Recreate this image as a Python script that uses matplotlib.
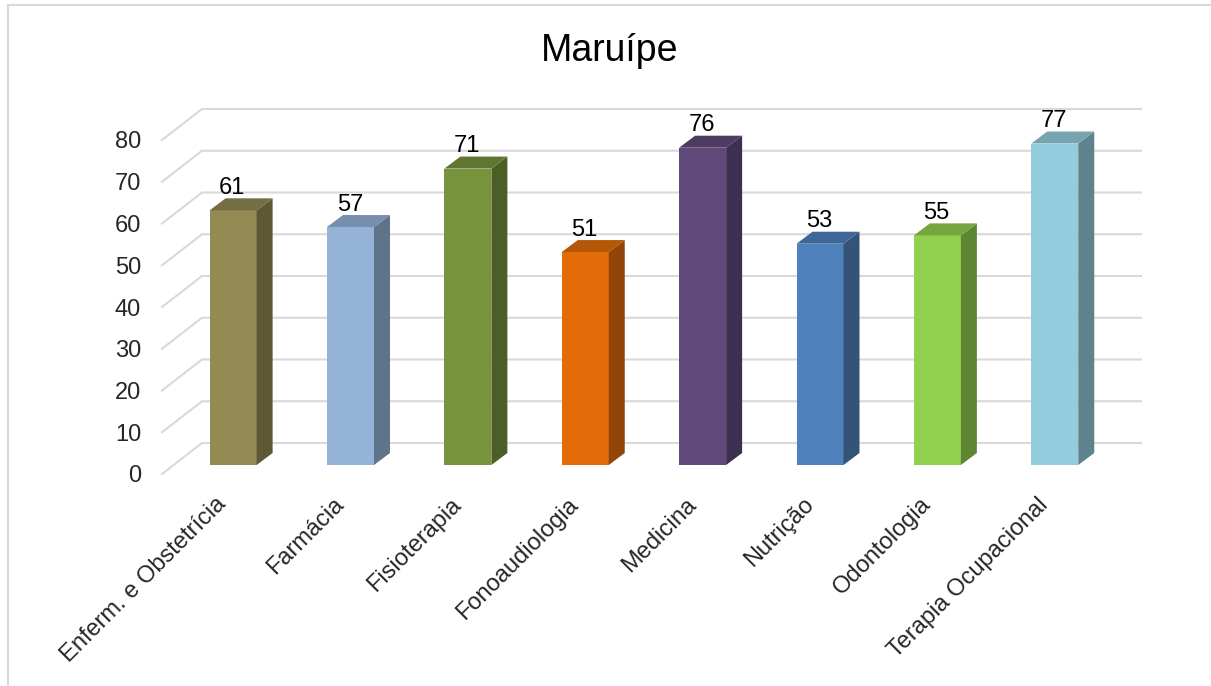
import matplotlib
matplotlib.use('Agg')
import matplotlib.pyplot as plt
from matplotlib.patches import Polygon, Rectangle
from matplotlib.lines import Line2D
from matplotlib.colors import to_rgb
from matplotlib.transforms import ScaledTranslation

plt.rcParams['font.family'] = ['Liberation Sans', 'DejaVu Sans']

cursos = ['Enferm. e Obstetrícia', 'Farmácia', 'Fisioterapia', 'Fonoaudiologia',
          'Medicina', 'Nutrição', 'Odontologia', 'Terapia Ocupacional']
valores = [61, 57, 71, 51, 76, 53, 55, 77]
cores = ['#948A54', '#95B3D7', '#77933C', '#E36C09', '#604A7B', '#4F81BD', '#92D050', '#93CDDD']
yticks = [0, 10, 20, 30, 40, 50, 60, 70, 80]

W, H = 1211, 686
fig = plt.figure(figsize=(W / 100, H / 100), dpi=100)
# eixo = plano frontal da caixa 3D (em pixels: x 162-1101, y 474-140)
ax = fig.add_axes([162 / W, 1 - 474 / H, 939 / W, 334 / H])
ax.set_xlim(-0.6, 7.4)
ax.set_ylim(0, 80)

px_x = 8 / 939   # unidades de x por pixel
px_y = 80 / 334  # unidades de y por pixel

wall_dx, wall_dy = 40 * px_x, 31 * px_y
bar_dx, bar_dy = 16 * px_x, 12 * px_y
base = 9 * px_y
larg = 47 * px_x
desvio = 0.7 * px_x

cinza = '#D9D9D9'
# grade: parede de fundo e lateral
for v in yticks:
    ax.plot([-0.6, -0.6 + wall_dx, 7.4 + wall_dx], [v, v + wall_dy, v + wall_dy],
            color=cinza, lw=1.5, clip_on=False, zorder=1, solid_joinstyle='miter')


def escurece(cor, f):
    return tuple(c * f for c in to_rgb(cor))


for i, (v, cor) in enumerate(zip(valores, cores)):
    x0, x1 = i + desvio - larg / 2, i + desvio + larg / 2
    topo = base + v
    ax.add_patch(Rectangle((x0, base), larg, v, fc=cor, ec='none', zorder=3, clip_on=False))
    ax.add_patch(Polygon([(x1, base), (x1 + bar_dx, base + bar_dy), (x1 + bar_dx, topo + bar_dy), (x1, topo)],
                         fc=escurece(cor, 0.64), ec='none', zorder=3, clip_on=False))
    ax.add_patch(Polygon([(x0, topo), (x0 + bar_dx, topo + bar_dy), (x1 + bar_dx, topo + bar_dy), (x1, topo)],
                         fc=escurece(cor, 0.8), ec='none', zorder=3, clip_on=False))
    ax.annotate(str(v), (i, topo + bar_dy), xytext=(0, -0.5), textcoords='offset points',
                ha='center', va='bottom', fontsize=17, color='black', zorder=4, annotation_clip=False)

for s in ax.spines.values():
    s.set_visible(False)
ax.patch.set_visible(False)
ax.set_yticks(yticks)
ax.set_xticks(range(len(cursos)))
ax.set_xticklabels(cursos, rotation=45, ha='right', rotation_mode='anchor', fontsize=17, color='#262626')
ax.tick_params(axis='y', length=0, pad=15, labelsize=17, labelcolor='#262626')
ax.tick_params(axis='x', length=0, pad=14)

# rotulos do eixo x um pouco para a esquerda
desloca = ScaledTranslation(-17 / 100, 0, fig.dpi_scale_trans)
for t in ax.get_xticklabels():
    t.set_transform(t.get_transform() + desloca)

fig.text(610 / W, 1 - 51 / H, 'Maruípe', ha='center', va='center', fontsize=27, color='black')

# moldura do grafico
fig.add_artist(Line2D([8 / W, 8 / W], [0, 1 - 5 / H], color=cinza, lw=1.5))
fig.add_artist(Line2D([8 / W, 1], [1 - 5 / H, 1 - 5 / H], color=cinza, lw=1.5))

fig.savefig('out.png', dpi=100)
